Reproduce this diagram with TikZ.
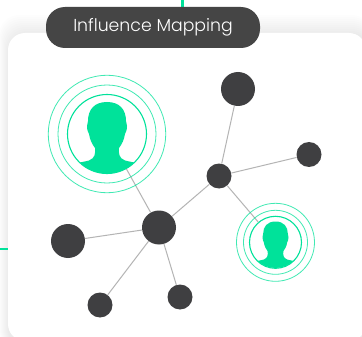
\documentclass[tikz,border=0pt]{standalone}
\usepackage{fontspec}
\setmainfont{Poppins}[UprightFont=* Light]
\definecolor{dark}{HTML}{3F3F41}
\definecolor{pill}{HTML}{454545}
\definecolor{mint}{HTML}{00E29A}
\definecolor{edgegrey}{HTML}{B4B4B4}
\tikzset{
  dot/.style={circle,fill=dark,draw=none,inner sep=0pt,minimum size=#1},
  edge/.style={draw=edgegrey,line width=1pt},
  ringline/.style={draw=mint,line width=0.8pt,opacity=0.75},
  hole/.style={circle,inner sep=0pt,minimum size=#1,draw=mint,line width=1.1pt,fill=white},
}
\newcommand{\personshape}[3]{%
  \begin{scope}[shift={(#1,#2)},scale=#3]
    \clip (0,0) circle (39.5);
    \fill[mint] (0,-32)
      .. controls (13,-32) and (19,-24) .. (19,-13)
      -- (20,-8) .. controls (20,-4) and (19,-2) .. (18,0)
      .. controls (17,6) and (15,10) .. (12,14)
      .. controls (11.5,20) and (12,24) .. (18,26.5)
      .. controls (23,28) and (30,28) .. (40,34)
      -- (40,42) -- (-40,42) -- (-40,34)
      .. controls (-30,28) and (-23,28) .. (-18,26.5)
      .. controls (-12,24) and (-11.5,20) .. (-12,14)
      .. controls (-15,10) and (-17,6) .. (-18,0)
      .. controls (-19,-2) and (-20,-4) .. (-20,-8)
      -- (-19,-13) .. controls (-19,-24) and (-13,-32) .. (0,-32) -- cycle;
  \end{scope}}
\begin{document}
\begin{tikzpicture}[x=1pt,y=-1pt]
\useasboundingbox (0,0) rectangle (362,337);
\fill[white] (0,0) rectangle (362,337);
\begin{scope}
  \clip (0,0) rectangle (362,337);
  \foreach \i in {0,1,...,9}{
    \fill[black,opacity=0.009,rounded corners=20pt] ({8-\i},{33-2*\i}) rectangle (372,350);
  }
  \fill[mint] (0,248.4) rectangle (10,250);
  \fill[mint] (181,0) rectangle (184,7);
  \fill[white,rounded corners=17pt] (8,33) rectangle (366,341);
\end{scope}
% rings
\node[hole=79pt] (bigp) at (107,134) {};
\node[hole=52pt] (smallp) at (275.5,242.3) {};
% hubs
\node[dot=34pt] (top) at (238,89) {};
\node[dot=25pt] (right) at (309,154.5) {};
\node[dot=25pt] (mid) at (219,176) {};
\node[dot=34pt] (hub) at (159,227.5) {};
\node[dot=34pt] (left) at (68,241) {};
\node[dot=25pt] (bl) at (100,305) {};
\node[dot=25pt] (bc) at (180,297) {};
\draw[edge] (top) -- (mid);
\draw[edge] (right) -- (mid);
\draw[edge] (mid) -- (hub);
\draw[edge] (mid) -- (smallp);
\draw[edge] (hub) -- (bigp);
\draw[edge] (hub) -- (left);
\draw[edge] (hub) -- (bl);
\draw[edge] (hub) -- (bc);
\draw[ringline] (bigp.center) circle (49);
\draw[ringline] (bigp.center) circle (58.7);
\draw[ringline] (smallp.center) circle (32);
\draw[ringline] (smallp.center) circle (39);
\personshape{107}{134}{1}
\personshape{275.5}{242.3}{0.65}
% pill
\node[fill=pill,rounded corners=19pt,minimum width=214pt,minimum height=41pt,inner sep=0pt,text=white,font=\fontsize{17.3pt}{19pt}\selectfont] (title) at (153,27.5) {Influence Mapping};
\end{tikzpicture}
\end{document}
